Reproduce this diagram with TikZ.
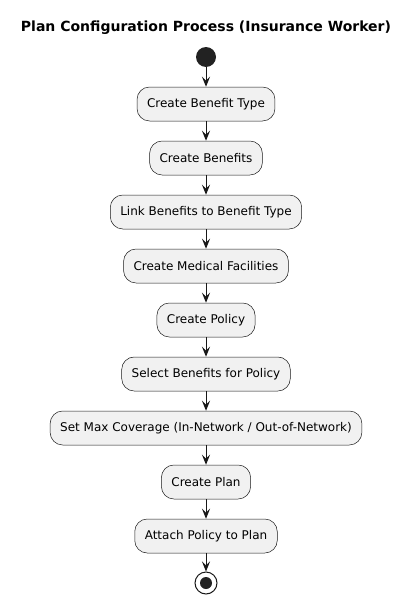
\documentclass[tikz,border=0pt]{standalone}
\usepackage{fontspec}
\setmainfont{DejaVu Sans}
\usetikzlibrary{arrows.meta}
\definecolor{actfill}{HTML}{F1F1F1}
\definecolor{actline}{HTML}{181818}
\definecolor{dotfill}{HTML}{222222}
\begin{document}
\begin{tikzpicture}[x=1pt,y=-1pt,
    act/.style={draw=actline, line width=0.5pt, fill=actfill, rounded corners=12.5pt,
      minimum height=34pt, inner xsep=10pt, inner ysep=0pt, font=\fontsize{12}{14}\selectfont},
    flow/.style={-{Stealth[length=10pt,width=8pt,inset=4pt]}, line width=1pt, color=actline}]

     \useasboundingbox (0,0) rectangle (413,605);

     \node (title) at (206,28) {\fontsize{14}{16}\selectfont\bfseries Plan Configuration Process (Insurance Worker)};
     \node (start) at (206,57) [circle, fill=dotfill, minimum size=20pt, inner sep=0pt] {};

     \node (bentype) at (206,104) [act] {Create Benefit Type};
     \node (benefits) at (206,158) [act] {Create Benefits};
     \node (link) at (206,212) [act] {Link Benefits to Benefit Type};
     \node (medical) at (206,266) [act] {Create Medical Facilities};
     \node (policy) at (206,320) [act] {Create Policy};
     \node (select) at (206,374) [act] {Select Benefits for Policy};
     \node (maxcov) at (206,428) [act] {Set Max Coverage (In-Network / Out-of-Network)};
     \node (plan) at (206,482) [act] {Create Plan};
     \node (attach) at (206,536) [act] {Attach Policy to Plan};

     \node (stop) at (206,583) [circle, draw=actline, line width=1pt, fill=white, minimum size=22pt, inner sep=0pt] {};
     \fill[dotfill] (stop) circle (6pt);

     \draw[flow] (start) -- (bentype);
     \draw[flow] (bentype) -- (benefits);
     \draw[flow] (benefits) -- (link);
     \draw[flow] (link) -- (medical);
     \draw[flow] (medical) -- (policy);
     \draw[flow] (policy) -- (select);
     \draw[flow] (select) -- (maxcov);
     \draw[flow] (maxcov) -- (plan);
     \draw[flow] (plan) -- (attach);
     \draw[flow] (attach) -- (stop);
\end{tikzpicture}
\end{document}
